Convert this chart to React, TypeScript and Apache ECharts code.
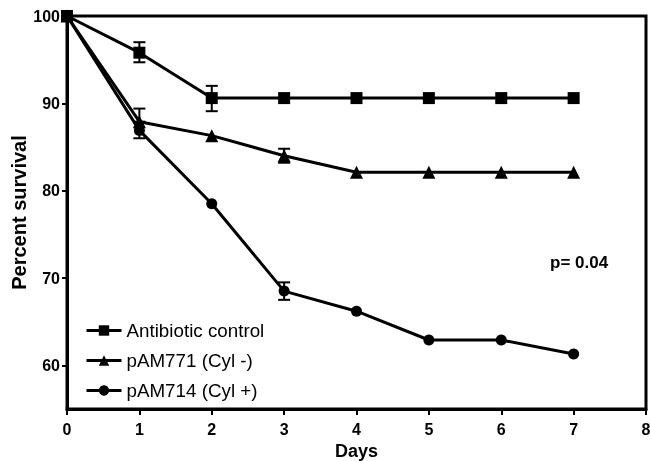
import React, { useEffect, useRef } from "react";
import * as echarts from "echarts";

const days = [0, 1, 2, 3, 4, 5, 6, 7];
const controlValues = [100, 95.8, 90.6, 90.6, 90.6, 90.6, 90.6, 90.6];
const cylMinusValues = [100, 87.9, 86.3, 84.0, 82.1, 82.1, 82.1, 82.1];
const cylPlusValues = [100, 86.9, 78.5, 68.5, 66.2, 62.9, 62.9, 61.3];
// error bars: [day, low, high]
const controlErr = [[1, 94.7, 97.0], [2, 89.1, 92.0]];
const cylMinusErr = [[1, 87.9, 89.4], [3, 83.2, 84.8]];
const cylPlusErr = [[1, 86.0, 87.8], [3, 67.5, 69.5]];
const yTicks = [60, 70, 80, 90, 100];
const xTicks = [0, 1, 2, 3, 4, 5, 6, 7, 8];

const FONT = "'Liberation Sans', Arial, sans-serif";

export default function App() {
  const ref = useRef<HTMLDivElement>(null);
  useEffect(() => {
    if (!ref.current) return;
    const chart = echarts.init(ref.current, null, { renderer: "svg" });
    const pair = (vals: number[]) => days.map((d, i) => [d, vals[i]]);
    const errSeries = (data: number[][]) => ({
      type: "custom",
      silent: true,
      z: 3,
      data,
      renderItem: (params: any, api: any) => {
        const x = api.value(0);
        const lo = api.coord([x, api.value(1)]);
        const hi = api.coord([x, api.value(2)]);
        const w = 6;
        const style = { stroke: "#000", lineWidth: 2 };
        return {
          type: "group",
          children: [
            { type: "line", shape: { x1: lo[0], y1: lo[1], x2: hi[0], y2: hi[1] }, style },
            { type: "line", shape: { x1: lo[0] - w, y1: lo[1], x2: lo[0] + w, y2: lo[1] }, style },
            { type: "line", shape: { x1: hi[0] - w, y1: hi[1], x2: hi[0] + w, y2: hi[1] }, style },
          ],
        };
      },
    });
    const lineSeries = (name: string, vals: number[], symbol: string, size: number) => ({
      name,
      type: "line",
      data: pair(vals),
      symbol,
      symbolSize: size,
      showAllSymbol: true,
      lineStyle: { color: "#000", width: 3 },
      itemStyle: { color: "#000" },
      z: 4,
    });
    chart.setOption({
      animation: false,
      grid: {
        left: 67,
        right: 4,
        top: 16,
        bottom: 52,
        outerBoundsMode: "none",
        containLabel: false,
        show: true,
        borderColor: "#000",
        borderWidth: 3,
      },
      legend: {
        data: ["Antibiotic control", "pAM771 (Cyl -)", "pAM714 (Cyl +)"],
        orient: "vertical",
        left: 80,
        top: 316,
        itemWidth: 35,
        itemHeight: 13,
        itemGap: 11,
        lineStyle: { width: 3, color: "#000" },
        textStyle: { fontFamily: FONT, fontSize: 18.8, color: "#000" },
      },
      xAxis: {
        type: "value",
        min: 0,
        max: 8,
        interval: 1,
        name: "Days",
        nameLocation: "middle",
        nameGap: 33,
        nameMoveOverlap: false,
        nameTextStyle: { fontFamily: FONT, fontSize: 18, fontWeight: "bold", color: "#000" },
        axisLine: { lineStyle: { color: "#000", width: 3 } },
        axisTick: { show: true, length: 6, lineStyle: { color: "#000", width: 2 }, customValues: xTicks },
        axisLabel: { fontFamily: FONT, fontSize: 16, fontWeight: "bold", color: "#000", margin: 12, customValues: xTicks },
        splitLine: { show: false },
      },
      yAxis: {
        type: "value",
        min: 55,
        max: 100,
        name: "Percent survival",
        nameLocation: "middle",
        nameGap: 38,
        nameMoveOverlap: false,
        nameTextStyle: { fontFamily: FONT, fontSize: 20, fontWeight: "bold", color: "#000" },
        axisLine: { show: true, lineStyle: { color: "#000", width: 3 } },
        axisTick: { show: true, length: 5, lineStyle: { color: "#000", width: 2 }, customValues: yTicks },
        axisLabel: { fontFamily: FONT, fontSize: 16, fontWeight: "bold", color: "#000", margin: 7, customValues: yTicks },
        splitLine: { show: false },
      },
      graphic: [
        {
          type: "text",
          left: 550,
          top: 254,
          style: { text: "p= 0.04", fontFamily: FONT, fontSize: 17, fontWeight: "bold", fill: "#000" },
        },
      ],
      series: [
        lineSeries("Antibiotic control", controlValues, "rect", 12),
        lineSeries("pAM771 (Cyl -)", cylMinusValues, "triangle", 13),
        lineSeries("pAM714 (Cyl +)", cylPlusValues, "circle", 11),
        errSeries(controlErr),
        errSeries(cylMinusErr),
        errSeries(cylPlusErr),
      ],
    });
    return () => chart.dispose();
  }, []);
  return <div ref={ref} style={{ position: "fixed", left: 0, top: 0, width: 650, height: 461 }} />;
}
